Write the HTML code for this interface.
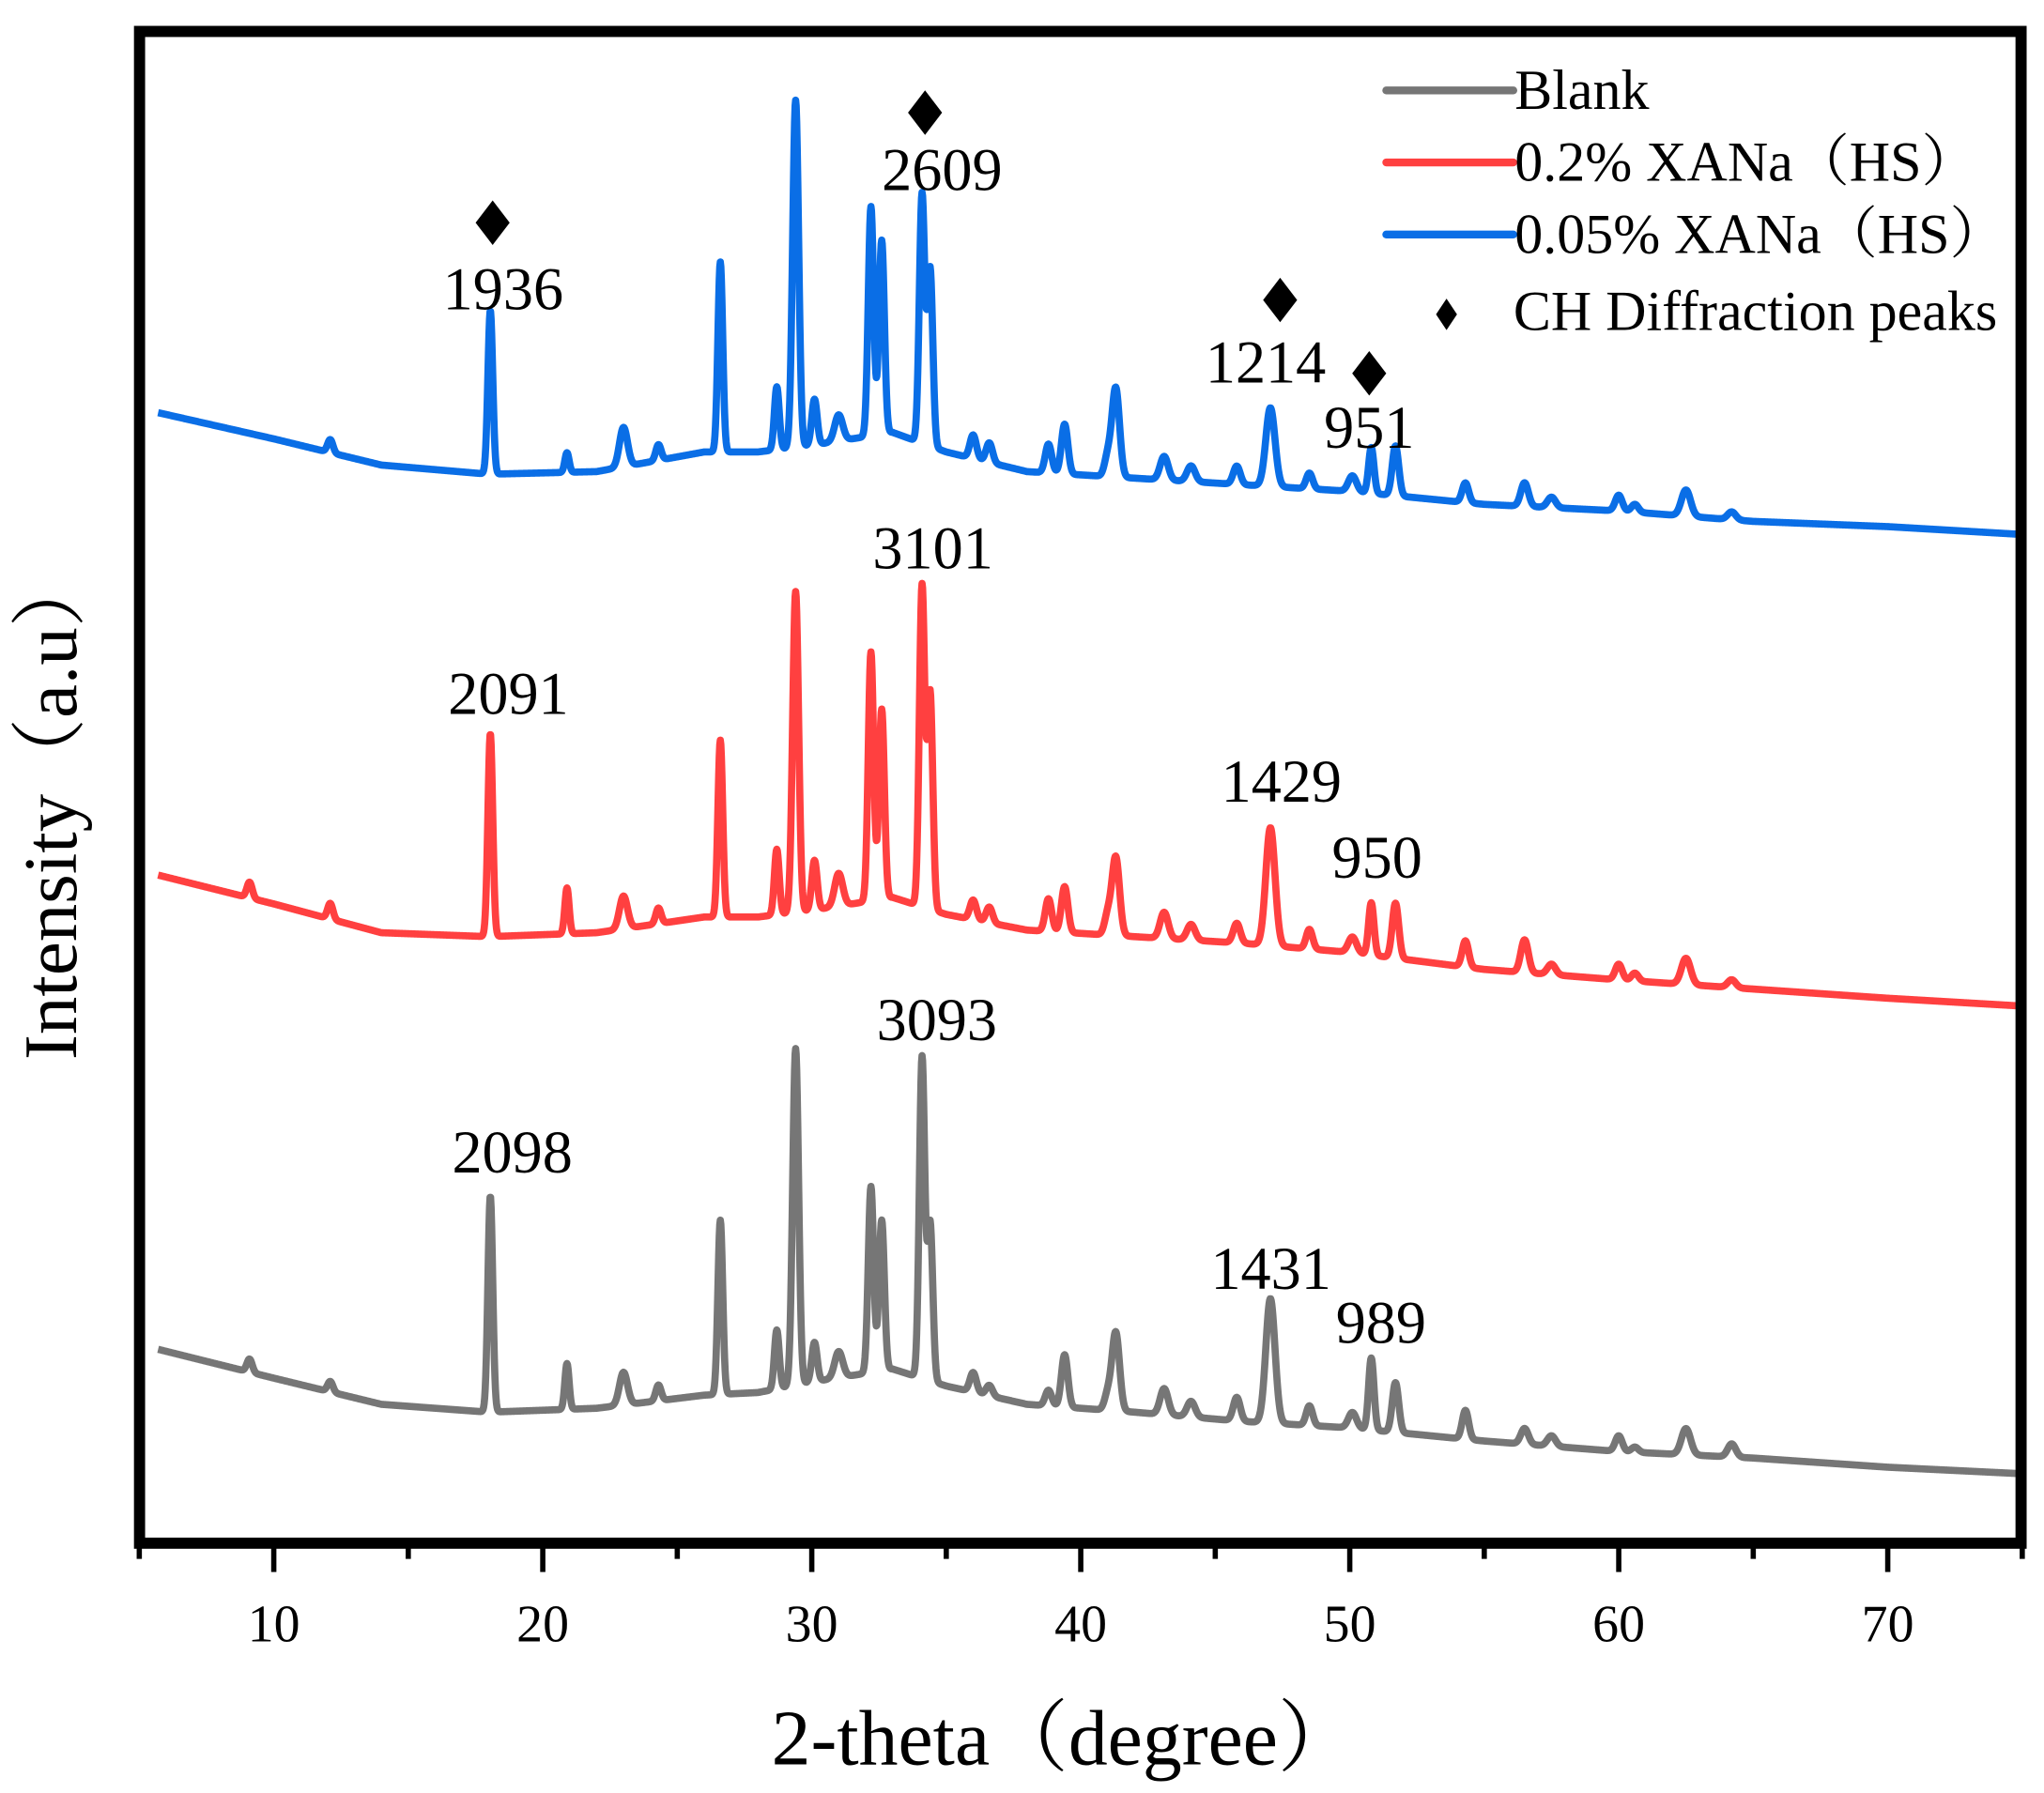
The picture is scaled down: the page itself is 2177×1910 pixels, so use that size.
<!DOCTYPE html>
<html><head><meta charset="utf-8"><style>
html,body{margin:0;padding:0;background:#fff;}
svg{display:block;}
text{font-family:"Liberation Serif","Noto Serif CJK SC",serif;fill:#000;}
</style></head><body>
<svg id="chart" width="2177" height="1910" viewBox="0 0 1560 1368.7" preserveAspectRatio="none" xmlns="http://www.w3.org/2000/svg">
<g id="series"></g>
<rect x="106.5" y="24" width="1436" height="1154" fill="none" stroke="#000" stroke-width="8.5"/>
<g id="ticks"></g>
<text x="812" y="1347" font-size="60" text-anchor="middle">2-theta（degree）</text>
<text transform="translate(58,615) rotate(-90)" font-size="58" text-anchor="middle">Intensity（a.u）</text>
<g font-size="43">
<line x1="1058" y1="69" x2="1155" y2="69" stroke="#767676" stroke-width="6" stroke-linecap="round"/>
<text x="1156" y="83">Blank</text>
<line x1="1058" y1="124" x2="1155" y2="124" stroke="#ff4040" stroke-width="6" stroke-linecap="round"/>
<text x="1156" y="138">0.2% XANa（HS）</text>
<line x1="1058" y1="179" x2="1155" y2="179" stroke="#0a6ee6" stroke-width="6" stroke-linecap="round"/>
<text x="1156" y="193">0.05% XANa（HS）</text>
<path d="M1104,228 L1112,240 L1104,252 L1096,240 Z" fill="#000"/>
<text x="1155" y="252">CH Diffraction peaks</text>
</g>
<g font-size="46" text-anchor="middle">
<text x="384" y="236">1936</text>
<text x="719" y="145">2609</text>
<text x="966" y="292">1214</text>
<text x="1045" y="342">951</text>
<text x="712" y="434">3101</text>
<text x="388" y="545">2091</text>
<text x="978" y="612">1429</text>
<text x="1051" y="670">950</text>
<text x="715" y="794">3093</text>
<text x="391" y="895">2098</text>
<text x="970" y="984">1431</text>
<text x="1054" y="1025">989</text>
</g>
<g fill="#000">
<path d="M376,153 L389,170 L376,187 L363,170 Z"/>
<path d="M706,69 L719,86 L706,103 L693,86 Z"/>
<path d="M977,212 L990,229 L977,246 L964,229 Z"/>
<path d="M1045,268 L1058,285 L1045,302 L1032,285 Z"/>
</g>
</svg>
<script>
// x tick labels
const xTicks = [10,20,30,40,50,60,70];
const xMinor = [5,15,25,35,45,55,65,75];
// peak positions (2-theta) and widths (deg)
const peakPos   = [9.1,12.1,18.05,20.9,23.0,24.3,26.6,28.7,29.4,30.1,31.0,32.2,32.6,34.1,34.4,36.0,36.6,38.8,39.4,41.0,41.3,43.1,44.1,45.8,47.05,48.5,50.1,50.8,51.7,54.3,56.5,57.5,60.0,60.6,62.5,64.2];
const peakWidth = [0.1,0.1,0.09,0.08,0.15,0.1,0.09,0.09,0.11,0.1,0.15,0.1,0.1,0.1,0.1,0.12,0.12,0.12,0.12,0.12,0.14,0.15,0.15,0.13,0.17,0.12,0.15,0.1,0.12,0.12,0.14,0.15,0.13,0.13,0.17,0.15];
// background knots
const bgX = [5.7,10,14,18,22,26,28,30,33,35,38,42,46,50,55,60,65,70,75];
// series: baselines (intensity, a.u.) and peak heights
const blankBg  = [148,126,106,100,103,113,115,123,133,120,106,100,93,88,78,70,65,58,53];
const blankPk  = [10,8,165,35,25,12,133,45,257,30,20,142,115,245,120,15,8,12,40,12,60,20,12,18,95,15,12,55,38,22,12,8,12,4,20,10];
const red02Bg  = [510,488,466,463,466,478,478,483,493,480,468,463,458,451,438,430,423,416,410];
const red02Pk  = [12,12,155,35,25,12,135,50,245,38,25,190,145,245,165,15,12,25,35,15,60,20,12,15,90,15,12,40,42,20,25,8,12,6,20,6];
const blue005Bg= [863,843,823,816,818,833,833,838,848,833,818,813,808,803,793,788,780,776,770];
const blue005Pk= [0,10,125,15,30,12,145,48,265,35,20,175,148,190,135,18,15,22,38,15,68,18,12,14,60,12,12,35,38,15,18,8,12,6,20,6];
const xScale = v => 106.3 + (v-5)*20.53;
const yScale = v => 1178 - v;
function bg(x, arr){
  for(let i=0;i<bgX.length-1;i++){
    if(x<=bgX[i+1]){const t=(x-bgX[i])/(bgX[i+1]-bgX[i]);return arr[i]+t*(arr[i+1]-arr[i]);}
  }
  return arr[arr.length-1];
}
function val(x, bgArr, pk){
  let v=bg(x,bgArr);
  for(let j=0;j<peakPos.length;j++){
    const h=pk[j]||0; if(!h) continue;
    const d=(x-peakPos[j])/peakWidth[j];
    v+=h*Math.exp(-0.5*d*d);
  }
  return v;
}
const svgNS="http://www.w3.org/2000/svg";
const g=document.getElementById('series');
function draw(bgArr,pk,color,name){
  let d='';
  for(let x=5.7;x<=75.001;x+=0.02){
    d+=(d?'L':'M')+xScale(x).toFixed(2)+','+yScale(val(x,bgArr,pk)).toFixed(2);
  }
  const p=document.createElementNS(svgNS,'path');
  p.setAttribute('d',d);p.setAttribute('fill','none');p.setAttribute('stroke',color);
  p.setAttribute('stroke-width','5.5');p.setAttribute('stroke-linejoin','round');
  
  
  g.appendChild(p);
}
draw(blankBg,blankPk,'#767676','series-blank');
draw(red02Bg,red02Pk,'#ff4040','series-0-2-xana');
draw(blue005Bg,blue005Pk,'#0a6ee6','series-0-05-xana');
const tg=document.getElementById('ticks');
xTicks.forEach(t=>{
  const l=document.createElementNS(svgNS,'line');
  l.setAttribute('x1',xScale(t));l.setAttribute('x2',xScale(t));l.setAttribute('y1',1178);l.setAttribute('y2',1200);
  l.setAttribute('stroke','#000');l.setAttribute('stroke-width','4');
  
  
  tg.appendChild(l);
  const tx=document.createElementNS(svgNS,'text');
  tx.setAttribute('x',xScale(t));tx.setAttribute('y',1253);tx.setAttribute('font-size','40');tx.setAttribute('text-anchor','middle');
  tx.textContent=t;
  
  
  tg.appendChild(tx);
});
xMinor.forEach(t=>{
  const l=document.createElementNS(svgNS,'line');
  l.setAttribute('x1',xScale(t));l.setAttribute('x2',xScale(t));l.setAttribute('y1',1178);l.setAttribute('y2',1190);
  l.setAttribute('stroke','#000');l.setAttribute('stroke-width','4');
  
  
  tg.appendChild(l);
});
</script>
</body></html>
